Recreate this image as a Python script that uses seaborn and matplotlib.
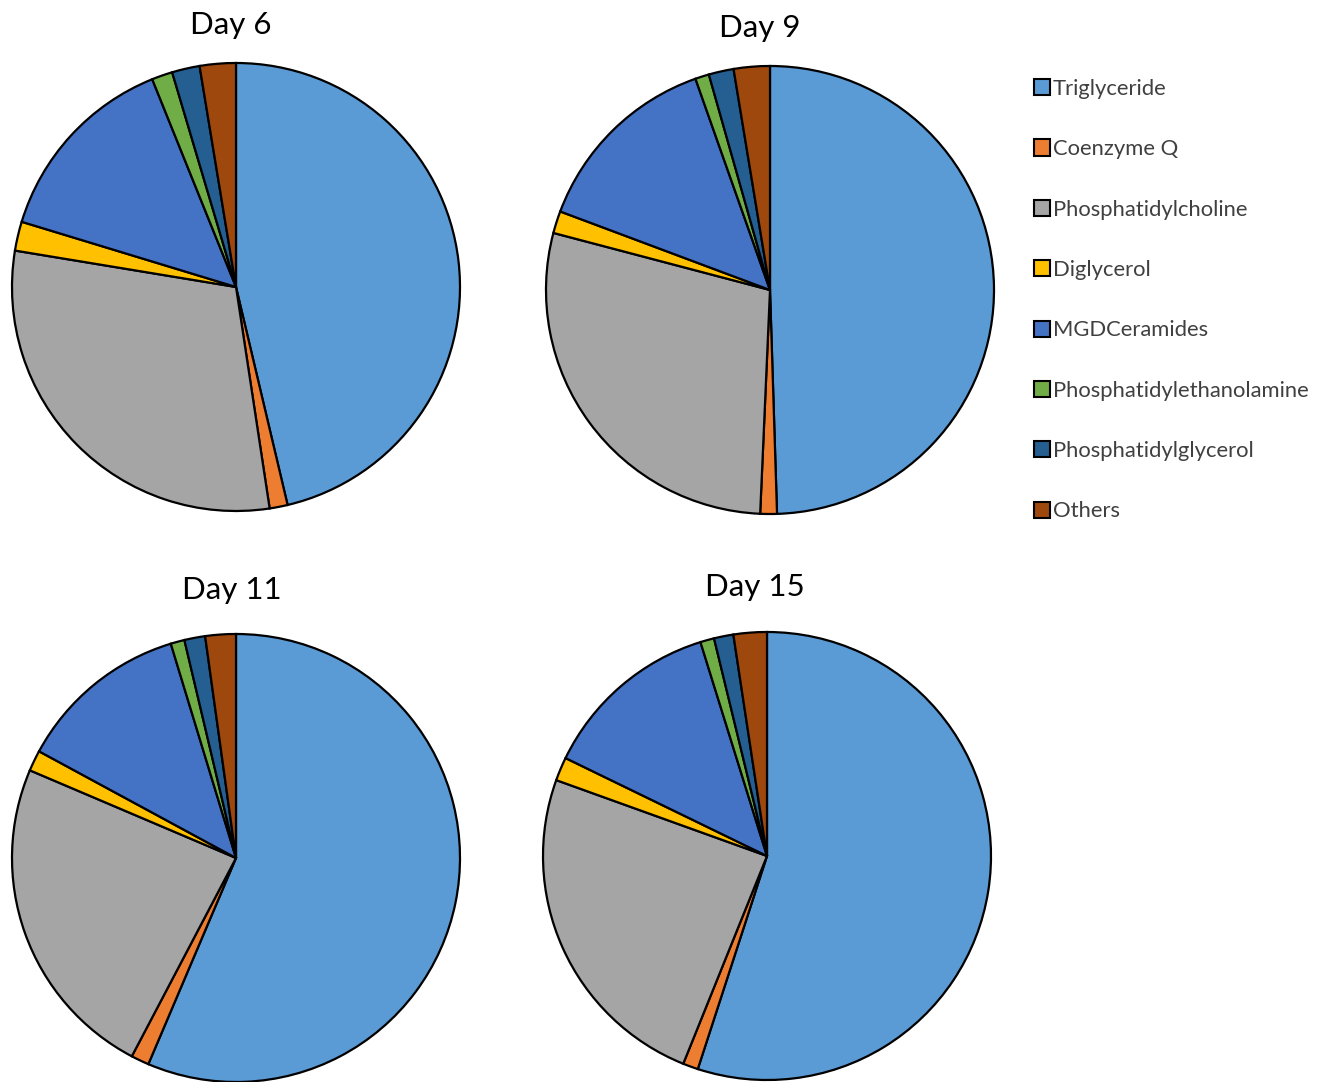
import matplotlib
matplotlib.use("Agg")
import matplotlib.pyplot as plt
import matplotlib.patches as mpatches
import seaborn as sns

# lipid classes, percent of total
classes = ["Triglyceride", "Coenzyme Q", "Phosphatidylcholine", "Diglycerol",
           "MGDCeramides", "Phosphatidylethanolamine", "Phosphatidylglycerol", "Others"]
day6 = [46.3, 1.3, 30.0, 2.1, 14.2, 1.5, 2.0, 2.6]
day9 = [49.5, 1.2, 28.4, 1.6, 13.9, 1.0, 1.8, 2.6]
day11 = [56.4, 1.3, 23.7, 1.5, 12.4, 1.0, 1.5, 2.2]
day15 = [55.0, 1.1, 24.4, 1.7, 13.0, 1.0, 1.4, 2.4]
titles = ["Day 6", "Day 9", "Day 11", "Day 15"]

colors = ["#5B9BD5", "#ED7D31", "#A5A5A5", "#FFC000",
          "#4472C4", "#70AD47", "#255E91", "#9E480E"]

sns.set_theme(style="white")
plt.rcParams["font.family"] = ["Lato", "DejaVu Sans"]

W, H = 1320, 1082
fig = plt.figure(figsize=(W / 100, H / 100), dpi=100)

# pie centre (px), radius (px), title position (px)
layout = [
    ((236, 287), 224, (231, 25)),
    ((770, 290), 224, (760, 28)),
    ((236, 858), 224, (232, 590)),
    ((767, 856), 224, (755, 587)),
]

for vals, title, (c, r, tp) in zip([day6, day9, day11, day15], titles, layout):
    ax = fig.add_axes([(c[0] - r) / W, (H - c[1] - r) / H, 2 * r / W, 2 * r / H])
    ax.pie(vals, colors=colors, startangle=90, counterclock=False,
           wedgeprops=dict(edgecolor="black", linewidth=1.6))
    ax.set_xlim(-1, 1)
    ax.set_ylim(-1, 1)
    ax.set_aspect("equal")
    ax.axis("off")
    fig.text(tp[0] / W, 1 - tp[1] / H, title, ha="center", va="center",
             fontsize=22.5, color="black")

handles = [mpatches.Patch(facecolor=col, edgecolor="black", linewidth=1.5)
           for col in colors]
leg = fig.legend(handles, classes, loc="upper left",
                 bbox_to_anchor=(1014 / W, 1 - 59 / H), frameon=False,
                 fontsize=15.8, labelspacing=1.84, handlelength=0.75,
                 handleheight=0.75, handletextpad=0.12)
for t in leg.get_texts():
    t.set_color("#404040")

fig.savefig("out.png", dpi=100)
